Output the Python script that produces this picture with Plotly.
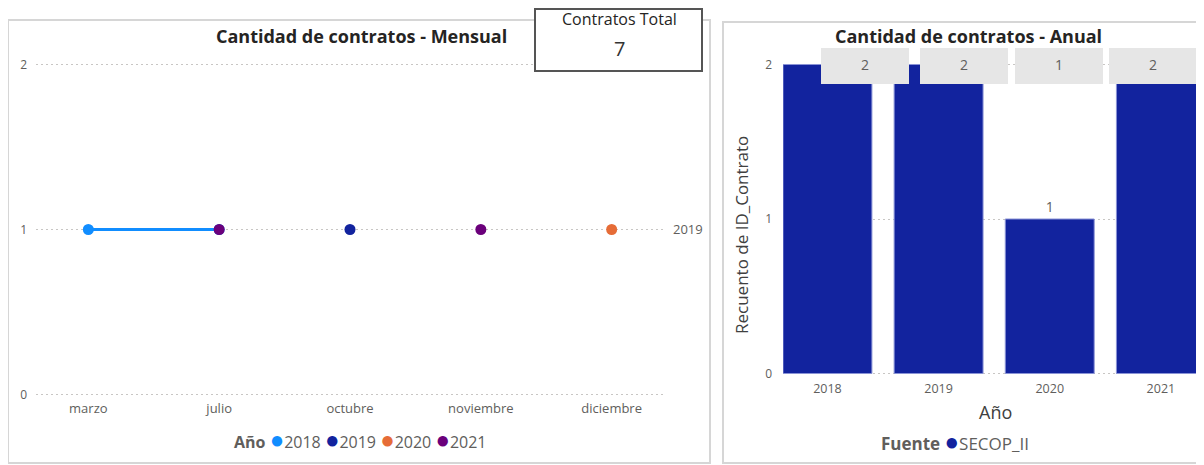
import plotly.graph_objects as go

W, H = 1204, 465
OFF = 8  # margen del body de la pagina

# datos - grafico mensual
meses = ["marzo", "julio", "octubre", "noviembre", "diciembre"]
c2018 = [1, 1, None, None, None]
c2019 = [None, None, 1, None, None]
c2020 = [None, None, None, None, 1]
c2021 = [None, 1, None, 1, None]

# datos - grafico anual
anios = ["2018", "2019", "2020", "2021"]
recuento = [2, 2, 1, 2]
total_contratos = 7

colores = {"2018": "#118DFF", "2019": "#12239E", "2020": "#E66C37", "2021": "#6B007B"}
gris = "#605E5C"
FONT = "Open Sans"


def fx(p):
    return (p - OFF) / W


def fy(p):
    return 1 - (p - OFF) / H


def nota(text, x, y, size, color=gris, **kw):
    return dict(text=text, x=fx(x), y=fy(y), xref="paper", yref="paper",
                xanchor="center", yanchor="middle", showarrow=False,
                font=dict(size=size, color=color, family=FONT), **kw)


fig = go.Figure()

series = {"2018": c2018, "2019": c2019, "2020": c2020, "2021": c2021}
for anio, vals in series.items():
    fig.add_trace(go.Scatter(
        x=meses, y=vals, name=anio, mode="lines+markers",
        line=dict(color=colores[anio], width=3),
        marker=dict(color=colores[anio], size=11),
        connectgaps=False, xaxis="x", yaxis="y", showlegend=False,
    ))

fig.add_trace(go.Bar(
    x=anios, y=recuento, xaxis="x2", yaxis="y2",
    marker=dict(color="#12239E", line=dict(color="#8A93D6", width=1)),
    text=[str(v) for v in recuento],
    textposition=["inside" if v == max(recuento) else "outside" for v in recuento],
    insidetextanchor="end",
    textfont=dict(color=["white" if v == max(recuento) else gris for v in recuento], size=14, family=FONT),
    cliponaxis=False, showlegend=False,
))

grid = dict(showgrid=True, gridcolor="#C8C6C4", griddash="2px,3px", gridwidth=1,
            zeroline=False, showline=False, ticks="")

# rango un poco mas amplio para que se vean las lineas de 0 y 2
pad = 0.03
fig.update_layout(
    width=W, height=H, autosize=False,
    margin=dict(l=0, r=0, t=0, b=0, autoexpand=False),
    paper_bgcolor="white", plot_bgcolor="white",
    bargap=0.2,
    xaxis=dict(domain=[fx(36), fx(664)], type="category", range=[-0.4, 4.4],
               showgrid=False, zeroline=False, showline=False, ticks="",
               tickfont=dict(color=gris, size=13, family=FONT), anchor="y",
               ticklabelstandoff=0),
    yaxis=dict(domain=[fy(394.5 + 164.75 * pad), fy(64.5 - 164.75 * pad)], range=[-pad, 2 + pad],
               dtick=1, anchor="x", ticklabelstandoff=8,
               tickfont=dict(color=gris, size=12, family=FONT), **grid),
    xaxis2=dict(domain=[fx(783), 1.0], type="category", range=[-0.4, 3.46],
                showgrid=False, zeroline=False, showline=False, ticks="",
                tickfont=dict(color=gris, size=12.5, family=FONT), anchor="y2",
                ticklabelstandoff=1),
    yaxis2=dict(domain=[fy(373.5 + 154.5 * pad), fy(64.5 - 154.5 * pad)], range=[-pad, 2 + pad],
                dtick=1, anchor="x2", ticklabelstandoff=10,
                tickfont=dict(color=gris, size=12, family=FONT), **grid),
)

shapes = [
    # marcos de los paneles
    dict(type="rect", xref="paper", yref="paper", x0=fx(8), x1=fx(710), y0=fy(463), y1=fy(20),
         line=dict(color="#D6D6D6", width=2), fillcolor="rgba(0,0,0,0)", layer="below"),
    dict(type="rect", xref="paper", yref="paper", x0=fx(723), x1=fx(1220), y0=fy(463), y1=fy(22),
         line=dict(color="#D6D6D6", width=2), fillcolor="rgba(0,0,0,0)", layer="below"),
    # tarjeta
    dict(type="rect", xref="paper", yref="paper", x0=fx(535), x1=fx(702), y0=fy(71), y1=fy(9),
         line=dict(color="#555555", width=2), fillcolor="white", layer="above"),
]

annotations = [
    nota("<b>Cantidad de contratos - Mensual</b>", 361, 36, 18, "#252423"),
    nota("<b>Cantidad de contratos - Anual</b>", 968, 36, 18, "#252423"),
    nota("Contratos Total", 619, 19, 16, "#252423"),
    nota(str(total_contratos), 619, 49, 20, "#333333"),
    nota("2019", 688, 229, 13),
    nota("Recuento de ID_Contrato", 741, 235, 17, "#404040", textangle=-90),
    nota("Año", 995, 412, 18, "#404040"),
]

dot = "<span style='color:{c};font-size:24px'>●</span>"
leyenda = "<b>Año</b> " + " ".join(dot.format(c=colores[a]) + a for a in series)
annotations.append(nota(leyenda, 360, 438, 16))
annotations.append(nota("<b>Fuente</b> " + dot.format(c="#12239E") + "SECOP_II", 955, 440, 17))

# cajas grises con los valores
cajas = [(821, 909), (920, 1008), (1015, 1103), (1109, 1197)]
for (a, b), v in zip(cajas, recuento):
    shapes.append(dict(type="rect", xref="paper", yref="paper", x0=fx(a), x1=fx(b), y0=fy(84), y1=fy(48),
                       line=dict(width=0), fillcolor="#E6E6E6", layer="above"))
    annotations.append(nota(str(v), (a + b) / 2, 64, 14))

fig.update_layout(shapes=shapes, annotations=annotations)
fig.write_html("out.html")
